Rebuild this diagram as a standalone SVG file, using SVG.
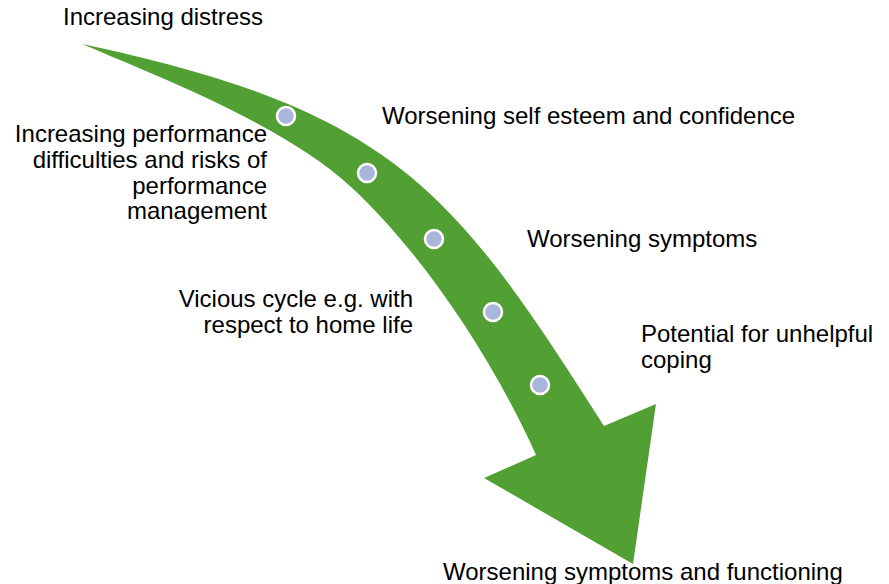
<svg xmlns="http://www.w3.org/2000/svg" width="889" height="584" viewBox="0 0 889 584">
<style>
.t{font-family:"Liberation Sans",Arial,sans-serif;font-size:24px;fill:#000}
.r{text-anchor:end}
.dot{fill:#a9b5db;stroke:#fff;stroke-width:2.5}
</style>
<rect width="889" height="584" fill="#fff"/>
<g id="connectors">
<path id="arrow" fill="#52a033" d="M82,44 C395,110.5 453.6,190 604,426 L656,404 L633,564 L484,478 L536,455 C495.3,363.7 424.9,255.4 351.6,187.4 C285.6,126.2 164.8,79.2 82,44 Z"/>
</g>
<g id="dots">
<circle class="dot" cx="286" cy="116" r="9"/>
<circle class="dot" cx="367" cy="173" r="9"/>
<circle class="dot" cx="434" cy="239" r="9"/>
<circle class="dot" cx="493" cy="312" r="9"/>
<circle class="dot" cx="540" cy="385" r="9"/>
</g>
<g id="n1"><text class="t" x="63" y="25">Increasing distress</text></g>
<g id="n2"><text class="t" x="382" y="124">Worsening self esteem and confidence</text></g>
<g id="n3"><text class="t r" x="267" y="142">Increasing performance</text><text class="t r" x="267" y="168">difficulties and risks of</text><text class="t r" x="267" y="194">performance</text><text class="t r" x="267" y="219">management</text></g>
<g id="n4"><text class="t" x="527" y="247">Worsening symptoms</text></g>
<g id="n5"><text class="t r" x="413" y="307">Vicious cycle e.g. with</text><text class="t r" x="413" y="333">respect to home life</text></g>
<g id="n6"><text class="t" x="641" y="342">Potential for unhelpful</text><text class="t" x="641" y="368">coping</text></g>
<g id="n7"><text class="t" x="443" y="580">Worsening symptoms and functioning</text></g>
</svg>
